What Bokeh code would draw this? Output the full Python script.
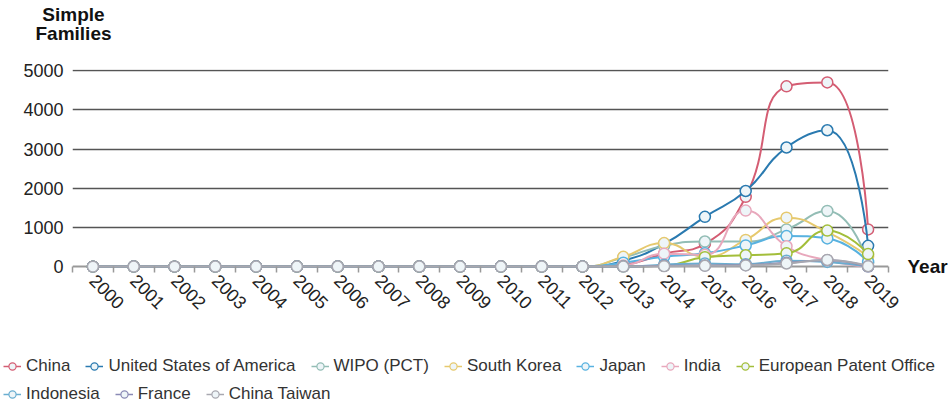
import math
from bokeh.plotting import figure
from bokeh.layouts import column
from bokeh.models import (Range1d, FixedTicker, Grid, Legend, LegendItem, ColumnDataSource,
                          LinearAxis, Label)
from bokeh.embed import file_html
from bokeh.resources import INLINE

years = ["2000", "2001", "2002", "2003", "2004", "2005", "2006", "2007", "2008", "2009",
         "2010", "2011", "2012", "2013", "2014", "2015", "2016", "2017", "2018", "2019"]

Z13 = [0, 0, 0, 0, 0, 0, 0, 0, 0, 0, 0, 0, 0]
china = Z13 + [50, 330, 580, 1780, 4600, 4700, 950]
usa = Z13 + [150, 580, 1270, 1930, 3040, 3480, 530]
wipo = Z13 + [230, 530, 640, 640, 950, 1420, 100]
south_korea = Z13 + [250, 600, 250, 680, 1250, 880, 260]
japan = Z13 + [100, 250, 340, 540, 780, 720, 120]
india = Z13 + [30, 330, 300, 1430, 520, 160, 0]
epo = Z13 + [0, 20, 240, 290, 340, 920, 320]
indonesia = Z13 + [0, 50, 80, 60, 150, 120, 0]
france = Z13 + [0, 20, 30, 40, 100, 160, 0]
china_taiwan = Z13 + [0, 10, 20, 30, 80, 170, 10]

series_names = ["China", "United States of America", "WIPO (PCT)", "South Korea", "Japan",
                "India", "European Patent Office", "Indonesia", "France", "China Taiwan"]
series_values = [china, usa, wipo, south_korea, japan, india, epo, indonesia, france, china_taiwan]
series_colors = ["#d45d73", "#2a7ab0", "#93bdb5", "#e6c96e", "#58b2e0",
                 "#e8a8bc", "#a3be3a", "#6aaed0", "#8a8ab5", "#a8a8b0"]

y_ticks = [0, 1000, 2000, 3000, 4000, 5000]

FONT = "Liberation Sans"
SX = 816 / 20.0          # px per category
SY = 196.0 / 5000.0      # px per unit value
MARKER_FILL = "#eef5f8"


def clamp(v, a, b):
    return max(min(v, max(a, b)), min(a, b))


def smooth_segments(xs, ys, smooth=0.5):
    """ECharts-style smooth bezier control points (computed in pixel space)."""
    P = [(x * SX, y * SY) for x, y in zip(xs, ys)]
    out = dict(x0=[], y0=[], x1=[], y1=[], cx0=[], cy0=[], cx1=[], cy1=[])
    n = len(P)
    cpx0, cpy0 = P[0]
    for i in range(1, n):
        x, y = P[i]
        px, py = P[i - 1]
        if i < n - 1:
            nx, ny = P[i + 1]
            vx, vy = nx - px, ny - py
            l0 = math.hypot(x - px, y - py)
            l1 = math.hypot(nx - x, ny - y)
            r = l1 / (l0 + l1)
            ncx = clamp(x + vx * smooth * r, nx, x)
            ncy = clamp(y + vy * smooth * r, ny, y)
            vx, vy = ncx - x, ncy - y
            cpx1 = clamp(x - vx * l0 / l1, px, x)
            cpy1 = clamp(y - vy * l0 / l1, py, y)
            vx, vy = x - cpx1, y - cpy1
            ncx = x + vx * l1 / l0
            ncy = y + vy * l1 / l0
        else:
            cpx1, cpy1 = x, y
            ncx, ncy = x, y
        out["x0"].append(px / SX); out["y0"].append(py / SY)
        out["x1"].append(x / SX); out["y1"].append(y / SY)
        out["cx0"].append(cpx0 / SX); out["cy0"].append(cpy0 / SY)
        out["cx1"].append(cpx1 / SX); out["cy1"].append(cpy1 / SY)
        cpx0, cpy0 = ncx, ncy
    return out


def strip(height):
    f = figure(width=951, height=height, x_range=Range1d(-100, -99), y_range=Range1d(-100, -99),
               output_backend="svg", toolbar_location=None,
               x_axis_location=None, y_axis_location=None, min_border=0)
    f.frame_align = False
    f.outline_line_color = None
    f.grid.visible = False
    f.background_fill_color = "white"
    f.border_fill_color = "white"
    return f


# ---- top strip: y axis name ----
top = strip(50)
top.add_layout(Label(x=73, y=47, x_units="screen", y_units="screen", text="Simple\nFamilies",
                     text_font=FONT, text_font_size="19px", text_font_style="bold",
                     text_color="#111111", text_align="center", text_baseline="top",
                     text_line_height=0.95))

# ---- main chart ----
p = figure(width=951, height=290, x_range=Range1d(-0.5, 19.5), y_range=Range1d(-150, 5030),
           output_backend="svg", toolbar_location=None,
           min_border_left=72, min_border_right=63, min_border_top=19, min_border_bottom=68)
p.frame_align = False
p.outline_line_color = None
p.background_fill_color = "white"
p.border_fill_color = "white"

p.yaxis.ticker = FixedTicker(ticks=y_ticks)
p.yaxis.axis_line_color = None
p.yaxis.major_tick_line_color = None
p.yaxis.major_tick_out = 0
p.yaxis.major_tick_in = 0
p.yaxis.minor_tick_line_color = None
p.yaxis.major_label_standoff = 9
p.yaxis.major_label_text_font = FONT
p.yaxis.major_label_text_font_size = "18px"
p.yaxis.major_label_text_color = "#222222"

xs = list(range(len(years)))
p.xaxis.ticker = FixedTicker(ticks=xs, minor_ticks=[i - 0.5 for i in range(len(years) + 1)])
p.xaxis.major_label_overrides = {i: years[i] for i in xs}
p.xaxis.major_label_orientation = -math.pi / 4
p.xaxis.axis_line_color = None
p.xaxis.major_tick_line_color = None
p.xaxis.major_tick_in = 0
p.xaxis.major_tick_out = 0
p.xaxis.minor_tick_in = 6
p.xaxis.minor_tick_out = 0
p.xaxis.minor_tick_line_color = "#999999"
p.xaxis.minor_tick_line_width = 1.5
p.xaxis.major_label_standoff = 5
p.xaxis.major_label_text_font = FONT
p.xaxis.major_label_text_font_size = "18px"
p.xaxis.major_label_text_color = "#222222"

year_axis = LinearAxis(ticker=FixedTicker(ticks=[0]), major_label_overrides={0: "Year"})
year_axis.axis_line_color = None
year_axis.major_tick_line_color = None
year_axis.minor_tick_line_color = None
year_axis.major_tick_out = 0
year_axis.major_tick_in = 0
year_axis.major_label_standoff = 19
year_axis.major_label_text_font = FONT
year_axis.major_label_text_font_size = "19px"
year_axis.major_label_text_font_style = "bold"
year_axis.major_label_text_color = "#111111"
p.add_layout(year_axis, "right")

p.xgrid.visible = False
p.ygrid.ticker = FixedTicker(ticks=y_ticks[1:])
p.ygrid.grid_line_color = "#555555"
p.ygrid.grid_line_width = 1.5
zero_grid = Grid(dimension=1, ticker=FixedTicker(ticks=[0]), grid_line_color="#999999", grid_line_width=2)
p.add_layout(zero_grid)

for name, vals, col in zip(series_names, series_values, series_colors):
    seg = ColumnDataSource(smooth_segments(xs, vals))
    p.bezier(x0="x0", y0="y0", x1="x1", y1="y1", cx0="cx0", cy0="cy0", cx1="cx1", cy1="cy1",
             source=seg, line_color=col, line_width=2)
    p.scatter(x=xs, y=vals, size=11, fill_color=MARKER_FILL, line_color=col, line_width=1.5)

# ---- legend strip: same series, view range away from the data so only the legend shows ----
lf = strip(66)
leg_items = []
for name, vals, col in zip(series_names, series_values, series_colors):
    a = lf.line(x=xs, y=vals, line_color=col, line_width=1.5)
    b = lf.scatter(x=xs, y=vals, size=9, fill_color=MARKER_FILL, line_color=col, line_width=1.2)
    leg_items.append(LegendItem(label=name, renderers=[a, b]))


def make_legend(items, loc):
    lg = Legend(items=items, orientation="horizontal", location=loc)
    lg.label_text_font = FONT
    lg.label_text_font_size = "17px"
    lg.label_text_color = "#333333"
    lg.glyph_width = 18
    lg.glyph_height = 20
    lg.label_height = 20
    lg.label_standoff = 5
    lg.spacing = 15
    lg.padding = 0
    lg.margin = 0
    lg.background_fill_alpha = 0
    lg.border_line_color = None
    return lg


lf.add_layout(make_legend(leg_items[:7], (3, 30)))
lf.add_layout(make_legend(leg_items[7:], (3, 2)))

layout = column(top, p, lf, spacing=0)
open("out.html", "w").write(file_html(layout, INLINE))
